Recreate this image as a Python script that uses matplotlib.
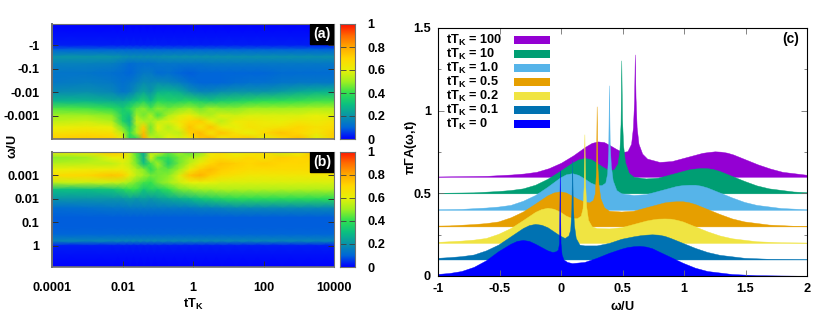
#!/usr/bin/env python
# -*- coding: utf-8 -*-
"""Spectral function heat maps vs time (a, b) and stacked spectra (c)."""

import matplotlib

matplotlib.use("Agg")
import matplotlib.pyplot as plt
from matplotlib.colors import LinearSegmentedColormap
from matplotlib.patches import Rectangle
import numpy as np

FONT_SIZE = 9.2
W, H = 830.0, 312.0

# log10(t T_K) columns shared by both maps
log_t = [-4, -3, -2.3, -2, -1.8, -1.6, -1.4, -1.2, -1, -0.7, -0.4, -0.1, 0.2, 0.5, 0.8, 1.2, 1.6, 2, 2.5, 3, 3.5, 4]

# log10|omega/U| rows
log_w_a = [0.9, 0, -0.2, -0.5, -0.8, -1.2, -1.6, -2, -2.4, -2.7, -3, -3.25, -3.5, -3.75, -4]
map_a = [
    [.00, .00, .00, .00, .00, .00, .00, .00, .00, .00, .00, .00, .00, .00, .00, .00, .00, .00, .00, .00, .00, .00],
    [.03, .03, .03, .03, .03, .03, .03, .03, .03, .03, .03, .03, .03, .03, .03, .03, .03, .03, .03, .03, .03, .03],
    [.10, .10, .10, .10, .10, .10, .10, .10, .10, .10, .10, .10, .10, .10, .10, .10, .10, .10, .10, .10, .10, .10],
    [.20, .20, .20, .19, .18, .18, .18, .18, .18, .19, .19, .19, .19, .19, .19, .19, .19, .19, .19, .19, .19, .19],
    [.16, .16, .15, .13, .11, .12, .12, .12, .13, .13, .13, .13, .13, .14, .14, .14, .14, .14, .14, .14, .14, .14],
    [.13, .13, .12, .11, .10, .12, .14, .14, .11, .12, .10, .09, .10, .10, .10, .10, .10, .10, .11, .11, .11, .11],
    [.14, .15, .14, .12, .13, .15, .18, .17, .18, .17, .15, .12, .10, .10, .10, .11, .12, .12, .13, .14, .14, .14],
    [.18, .19, .17, .13, .15, .20, .24, .20, .27, .28, .26, .20, .17, .17, .19, .20, .20, .20, .22, .25, .27, .28],
    [.28, .28, .26, .25, .28, .32, .36, .30, .38, .36, .36, .38, .35, .33, .35, .36, .38, .40, .40, .41, .42, .42],
    [.43, .42, .38, .33, .38, .45, .48, .42, .48, .45, .48, .50, .46, .50, .48, .48, .50, .50, .50, .51, .52, .52],
    [.50, .50, .48, .35, .31, .50, .46, .52, .42, .52, .58, .62, .55, .52, .58, .56, .58, .58, .58, .58, .60, .58],
    [.54, .56, .52, .36, .28, .55, .52, .50, .55, .58, .64, .70, .72, .60, .54, .62, .64, .62, .60, .64, .62, .66],
    [.60, .62, .60, .46, .34, .50, .72, .46, .60, .52, .60, .74, .66, .74, .62, .60, .66, .64, .66, .70, .66, .68],
    [.66, .68, .66, .54, .40, .52, .76, .48, .55, .56, .54, .72, .76, .66, .74, .66, .60, .68, .74, .70, .64, .72],
    [.72, .73, .72, .60, .36, .36, .80, .56, .50, .60, .58, .62, .74, .78, .62, .72, .74, .58, .68, .76, .58, .72],
]

log_w_b = [-4, -3.75, -3.5, -3.25, -3, -2.7, -2.4, -2, -1.6, -1.2, -0.8, -0.5, -0.2, 0, 0.9]
map_b = [
    [.62, .64, .74, .72, .56, .42, .26, .52, .60, .45, .50, .44, .48, .62, .66, .60, .62, .68, .56, .60, .78, .68],
    [.48, .50, .60, .62, .56, .44, .26, .58, .42, .38, .46, .50, .56, .66, .68, .66, .70, .66, .72, .70, .72, .70],
    [.53, .54, .54, .58, .55, .46, .30, .42, .50, .34, .46, .54, .62, .70, .74, .72, .70, .72, .70, .70, .68, .70],
    [.60, .62, .62, .62, .58, .52, .48, .38, .46, .44, .50, .62, .72, .76, .72, .70, .68, .68, .68, .68, .68, .68],
    [.68, .70, .74, .72, .62, .54, .50, .46, .46, .48, .58, .74, .78, .72, .68, .66, .64, .64, .64, .64, .64, .64],
    [.55, .56, .56, .54, .50, .46, .42, .40, .46, .50, .56, .60, .60, .60, .58, .58, .58, .58, .58, .58, .58, .58],
    [.30, .30, .32, .36, .40, .40, .32, .36, .34, .40, .46, .48, .50, .50, .52, .52, .52, .52, .52, .52, .52, .52],
    [.20, .20, .20, .20, .22, .20, .22, .20, .22, .24, .26, .28, .32, .34, .36, .38, .38, .38, .38, .38, .38, .38],
    [.11, .12, .13, .13, .14, .14, .14, .14, .14, .14, .14, .14, .15, .15, .16, .17, .17, .17, .17, .17, .17, .17],
    [.09, .09, .09, .09, .09, .09, .09, .09, .09, .09, .09, .09, .09, .09, .09, .09, .09, .09, .09, .09, .09, .09],
    [.09, .09, .09, .09, .09, .09, .09, .09, .09, .09, .09, .09, .09, .09, .09, .09, .09, .09, .09, .09, .09, .09],
    [.10, .10, .10, .10, .10, .10, .10, .10, .10, .10, .10, .10, .10, .10, .10, .10, .10, .10, .10, .10, .10, .10],
    [.17, .17, .17, .17, .17, .17, .17, .17, .17, .17, .17, .17, .17, .17, .17, .17, .17, .17, .17, .17, .17, .17],
    [.03, .03, .03, .03, .03, .03, .03, .03, .03, .03, .03, .03, .03, .03, .03, .03, .03, .03, .03, .03, .03, .03],
    [.00, .00, .00, .00, .00, .00, .00, .00, .00, .00, .00, .00, .00, .00, .00, .00, .00, .00, .00, .00, .00, .00],
]

# omega relative to the spike of each curve
w_rel = [-1.6, -1.2, -1.0, -0.9, -0.8, -0.7, -0.6, -0.5, -0.4, -0.35, -0.3, -0.25, -0.2, -0.15, -0.1, -0.06, -0.03,
         -0.015, -0.006, 0, 0.006, 0.015, 0.03, 0.06, 0.1, 0.2, 0.3, 0.4, 0.5, 0.55, 0.6, 0.65, 0.7, 0.75, 0.8,
         0.9, 1.0, 1.1, 1.2, 1.4, 1.6, 2.01]

labels_c = ["100", "10", "1.0", "0.5", "0.2", "0.1", "0"]
colors_c = ["#9400D3", "#009E73", "#56B4E9", "#E69F00", "#F0E442", "#0072B2", "#0000FF"]
baselines = [0.6, 0.5, 0.4, 0.3, 0.2, 0.1, 0.0]
spike_pos = [0.60, 0.49, 0.39, 0.29, 0.19, 0.09, -0.01]

spec_100 = [.002, .006, .014, .02, .03, .052, .085, .13, .183, .205, .214, .21, .19, .168, .15, .155, .20, .30, .46, .74, .48, .30, .20, .14, .11, .09, .095, .115, .135, .145, .15, .154, .152, .146, .135, .105, .075, .05, .03, .012, .005, .001]
spec_10 = [.002, .006, .014, .02, .03, .052, .088, .135, .185, .205, .214, .208, .185, .16, .14, .145, .18, .26, .42, .804, .45, .29, .19, .125, .10, .09, .095, .115, .135, .145, .15, .153, .152, .146, .135, .105, .075, .048, .03, .011, .004, .001]
spec_1 = [.002, .006, .014, .02, .03, .055, .09, .14, .195, .215, .222, .212, .19, .165, .15, .15, .165, .22, .36, .753, .40, .27, .18, .12, .10, .09, .095, .115, .135, .145, .15, .152, .152, .146, .135, .105, .075, .048, .03, .011, .004, .001]
spec_05 = [.002, .006, .014, .02, .03, .055, .09, .138, .188, .205, .212, .205, .185, .165, .15, .145, .16, .20, .33, .726, .36, .25, .17, .115, .095, .09, .095, .115, .135, .145, .15, .152, .152, .146, .135, .105, .075, .048, .03, .011, .004, .001]
spec_02 = [.002, .006, .014, .02, .03, .055, .09, .138, .188, .205, .213, .207, .19, .165, .15, .15, .165, .21, .34, .657, .36, .22, .14, .10, .09, .088, .095, .115, .135, .142, .147, .148, .147, .14, .13, .10, .07, .045, .028, .01, .004, .001]
spec_01 = [.002, .005, .014, .02, .03, .055, .09, .14, .19, .208, .215, .21, .195, .17, .145, .13, .145, .18, .30, .60, .33, .21, .13, .09, .085, .085, .10, .125, .14, .146, .15, .152, .15, .143, .13, .10, .07, .045, .028, .01, .004, .001]
spec_0 = [.001, .005, .012, .018, .03, .055, .095, .15, .195, .212, .218, .212, .195, .175, .155, .145, .15, .16, .20, .64, .20, .13, .10, .085, .078, .085, .11, .14, .165, .175, .18, .182, .178, .168, .15, .115, .08, .05, .03, .012, .005, .001]
spectra = [spec_100, spec_10, spec_1, spec_05, spec_02, spec_01, spec_0]

cbar_ticks = [0, 0.2, 0.4, 0.6, 0.8, 1]
cbar_labels = ["0", "0.2", "0.4", "0.6", "0.8", "1"]
cmap_colors = ["#0000ff", "#0068d8", "#0a94a8", "#0cc080", "#30e050", "#a0f020",
               "#e8f008", "#ffd800", "#ffa800", "#ff6a00", "#ff1000"]

GRAY = "#707070"


def add_axes_px(fig, x0, y0, x1, y1):
    return fig.add_axes([x0 / W, 1 - y1 / H, (x1 - x0) / W, (y1 - y0) / H])


def style_map_axes(ax):
    for side in ax.spines:
        ax.spines[side].set_color(GRAY)
    ax.spines["left"].set_linewidth(1.4)
    ax.spines["bottom"].set_linewidth(1.2)
    ax.spines["top"].set_linewidth(0.8)
    ax.spines["right"].set_linewidth(0.8)
    ax.tick_params(axis="x", direction="in", length=4, width=0.7, color="#303030",
                   top=True, labelsize=FONT_SIZE, pad=11)
    ax.tick_params(axis="y", direction="in", length=4, width=0.7, color="#303030",
                   right=True, labelsize=FONT_SIZE, pad=9)


def plot_map(ax, cax, log_w, values, cmap, yticks, ylabels, tag, invert):
    ax.pcolormesh(log_t, log_w, np.array(values), cmap=cmap, vmin=0, vmax=1, shading="gouraud", rasterized=True)
    ax.set_xlim(-4, 4)
    ax.set_ylim(-4, 0.9)
    if invert:
        ax.invert_yaxis()
    ax.set_xticks([-4, -2, 0, 2, 4])
    ax.set_yticks(yticks)
    ax.set_yticklabels(ylabels)
    style_map_axes(ax)
    ax.add_patch(Rectangle((0.9135, 0.825), 0.0865, 0.175, transform=ax.transAxes, color="black", zorder=5))
    ax.text(0.957, 0.912, tag, transform=ax.transAxes, color="white", ha="center", va="center",
            fontsize=FONT_SIZE + 1.0, zorder=6)

    ramp = np.linspace(0, 1, 256).reshape(-1, 1)
    cax.imshow(ramp, origin="lower", aspect="auto", cmap=cmap, vmin=0, vmax=1, extent=(0, 1, 0, 1))
    cax.set_xticks([])
    cax.yaxis.tick_right()
    cax.set_yticks(cbar_ticks)
    cax.set_yticklabels(cbar_labels)
    cax.tick_params(axis="y", direction="in", length=4, width=0.6, color="#404040",
                    left=True, right=True, labelsize=FONT_SIZE, pad=9)
    for label in cax.get_yticklabels():
        label.set_ha("left")
    for side in cax.spines:
        cax.spines[side].set_color(GRAY)
        cax.spines[side].set_linewidth(0.8)


def plot_spectra(ax):
    for values, base, pos, color in zip(spectra, baselines, spike_pos, colors_c):
        w = np.array(w_rel) + pos
        ax.fill_between(w, base, base + np.array(values), color=color, linewidth=0.3)
    ax.set_xlim(-1, 2)
    ax.set_ylim(0, 1.5)
    ax.set_xticks([-1, -0.5, 0, 0.5, 1, 1.5, 2])
    ax.set_xticklabels(["-1", "-0.5", "0", "0.5", "1", "1.5", "2"])
    ax.set_yticks([0, 0.5, 1, 1.5])
    ax.set_yticklabels(["0", "0.5", "1", "1.5"])
    ax.set_yticks([0.25, 0.75, 1.25], minor=True)
    ax.tick_params(axis="both", which="major", direction="in", length=4, width=0.6, color=GRAY,
                   top=True, right=True, labelsize=FONT_SIZE, pad=5)
    ax.tick_params(axis="y", which="minor", direction="in", length=2, width=0.6, color=GRAY, right=True)
    for side in ax.spines:
        ax.spines[side].set_linewidth(0.8)

    for i, (label, color) in enumerate(zip(labels_c, colors_c)):
        row_y = 1 - (12 + 14 * i) / 248.0
        ax.text(8 / 369.0, row_y, r"tT$_{\mathbf{K}}$ = " + label, transform=ax.transAxes, va="center",
                fontsize=FONT_SIZE)
        ax.add_patch(Rectangle((75.5 / 369.0, row_y - 4 / 248.0), 36 / 369.0, 8 / 248.0,
                               transform=ax.transAxes, color=color, linewidth=0, zorder=4))
    ax.text(0.957, 0.955, "(c)", transform=ax.transAxes, ha="center", va="center", fontsize=FONT_SIZE + 0.8)


def main():
    plt.rcParams.update(
        {
            "font.family": ["Liberation Sans", "DejaVu Sans"],
            "font.weight": "bold",
            "font.size": FONT_SIZE,
            "mathtext.fontset": "custom",
            "mathtext.bf": "Liberation Sans:bold",
            "mathtext.rm": "Liberation Serif",
            "mathtext.it": "Liberation Serif:italic",
            "mathtext.default": "regular",
            "axes.linewidth": 0.8,
        }
    )
    cmap = LinearSegmentedColormap.from_list("spectral_map", cmap_colors)
    fig = plt.figure(figsize=(8.3, 3.12), dpi=100)

    ax_a = add_axes_px(fig, 52, 24, 334, 139)
    cax_a = add_axes_px(fig, 340, 24, 355, 139)
    ax_b = add_axes_px(fig, 52, 152, 334, 267)
    cax_b = add_axes_px(fig, 340, 152, 355, 267)
    ax_c = add_axes_px(fig, 438, 28, 807, 276)

    plot_map(ax_a, cax_a, log_w_a, map_a, cmap, [0, -1, -2, -3], ["-1", "-0.1", "-0.01", "-0.001"], "(a)", False)
    ax_a.set_xticklabels([])
    plot_map(ax_b, cax_b, log_w_b, map_b, cmap, [-3, -2, -1, 0], ["0.001", "0.01", "0.1", "1"], "(b)", True)
    ax_b.set_xticklabels(["0.0001", "0.01", "1", "100", "10000"])
    plot_spectra(ax_c)

    fig.text(193 / W, 1 - 304 / H, r"tT$_{\mathbf{K}}$", ha="center", va="center", fontsize=FONT_SIZE)
    fig.text(12 / W, 1 - 147 / H, r"$\omega$/U", ha="center", va="center", rotation=90, fontsize=FONT_SIZE)
    fig.text(622.5 / W, 1 - 307 / H, r"$\omega$/U", ha="center", va="center", fontsize=FONT_SIZE)
    fig.text(411 / W, 1 - 147 / H, r"$\pi\Gamma$A($\omega$,t)", ha="center", va="center", rotation=90,
             fontsize=FONT_SIZE)

    fig.savefig("out.png", dpi=100)


if __name__ == "__main__":
    main()
